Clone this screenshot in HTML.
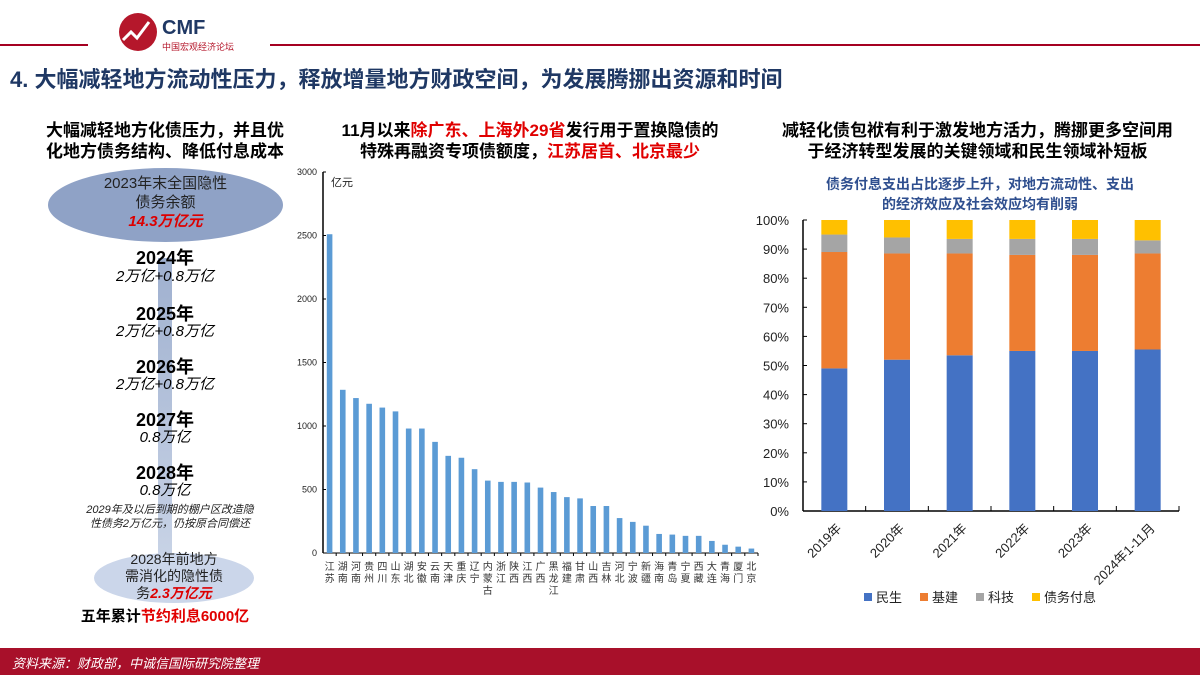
<!DOCTYPE html>
<html><head><meta charset="utf-8"><style>
body{margin:0;width:1200px;height:675px;overflow:hidden;background:#fff;font-family:"Liberation Sans","Noto Sans CJK SC",sans-serif;position:relative}
.a{position:absolute}
.h{font-weight:bold;font-size:17px;color:#000;text-align:center;line-height:21px}
.yr{font-weight:bold;font-size:18px;text-align:center;width:330px;left:0}
.it{font-style:italic;font-size:15px;text-align:center;width:330px;left:0}
.r{color:#e00000}
</style></head><body>
<div class="a" style="left:0;top:44px;width:88px;height:2px;background:#a50021"></div>
<div class="a" style="left:270px;top:44px;width:930px;height:2px;background:#a50021"></div>
<svg class="a" style="left:118px;top:12px" width="160" height="40">
<circle cx="20" cy="20" r="19" fill="#b5172b"/><polyline points="5,28 13,20 19,26 31,10" stroke="#fff" stroke-width="3" fill="none"/>
<text x="44" y="22" font-size="20" font-weight="bold" fill="#1f3864" font-family="Liberation Sans">CMF</text>
<text x="44" y="38" font-size="9" fill="#b5172b" font-family="Noto Sans CJK SC">中国宏观经济论坛</text></svg>
<div class="a" style="left:10px;top:62px;font-size:22px;font-weight:bold;color:#1f3864">4. 大幅减轻地方流动性压力，释放增量地方财政空间，为发展腾挪出资源和时间</div>

<div class="a h" style="left:0;top:120px;width:330px">大幅减轻地方化债压力，并且优<br>化地方债务结构、降低付息成本</div>
<div class="a" style="left:48px;top:168px;width:235px;height:74px;border-radius:50%;background:#8fa2c6"></div>
<div class="a" style="left:48px;top:174px;width:235px;text-align:center;font-size:15px;line-height:19px;color:#222">2023年末全国隐性<br>债务余额<br><b><i class="r" style="color:#d00">14.3万亿元</i></b></div>
<div class="a" style="left:158px;top:258px;width:14px;height:300px;background:linear-gradient(#9fb0cf,#c8d3e6)"></div>
<div class="a yr" style="top:244px">2024年</div>
<div class="a it" style="top:265px">2万亿+0.8万亿</div>
<div class="a yr" style="top:300px">2025年</div>
<div class="a it" style="top:320px">2万亿+0.8万亿</div>
<div class="a yr" style="top:353px">2026年</div>
<div class="a it" style="top:373px">2万亿+0.8万亿</div>
<div class="a yr" style="top:406px">2027年</div>
<div class="a it" style="top:426px">0.8万亿</div>
<div class="a yr" style="top:459px">2028年</div>
<div class="a it" style="top:479px">0.8万亿</div>
<div class="a" style="left:85px;top:503px;width:170px;text-align:center;font-size:11px;font-style:italic;line-height:14px;color:#222">2029年及以后到期的棚户区改造隐性债务2万亿元，仍按原合同偿还</div>
<div class="a" style="left:94px;top:553px;width:160px;height:50px;border-radius:50%;background:#cbd6ea"></div>
<div class="a" style="left:94px;top:551px;width:160px;text-align:center;font-size:14px;line-height:17px;color:#222">2028年前地方<br>需消化的隐性债<br>务<b><i style="color:#d00">2.3万亿元</i></b></div>
<div class="a" style="left:0;top:605px;width:330px;text-align:center;font-size:15px;font-weight:bold">五年累计<span class="r">节约利息6000亿</span></div>

<div class="a h" style="left:300px;top:120px;width:460px">11月以来<span class="r">除广东、上海外29省</span>发行用于置换隐债的<br>特殊再融资专项债额度，<span class="r">江苏居首、北京最少</span></div>
<svg class="a" id="mid" style="left:290px;top:160px" width="475" height="450"></svg>

<div class="a h" style="left:755px;top:120px;width:445px">减轻化债包袱有利于激发地方活力，腾挪更多空间用<br>于经济转型发展的关键领域和民生领域补短板</div>
<div class="a" style="left:760px;top:174px;width:440px;text-align:center;font-size:14px;font-weight:bold;color:#2f4f8f;line-height:20px">债务付息支出占比逐步上升，对地方流动性、支出<br>的经济效应及社会效应均有削弱</div>
<svg class="a" id="right" style="left:750px;top:200px" width="450" height="420"></svg>

<div class="a" style="left:0;top:648px;width:1200px;height:27px;background:#a8102a"></div>
<div class="a" style="left:12px;top:653px;font-size:13px;font-style:italic;color:#fff">资料来源：财政部，中诚信国际研究院整理</div>
<script>
const NS="http://www.w3.org/2000/svg";
function mk(p,t,a){const e=document.createElementNS(NS,t);for(const k in a)e.setAttribute(k,a[k]);p.appendChild(e);return e;}
// middle chart data
const provinces=["江苏","湖南","河南","贵州","四川","山东","湖北","安徽","云南","天津","重庆","辽宁","内蒙古","浙江","陕西","江西","广西","黑龙江","福建","甘肃","山西","吉林","河北","宁波","新疆","海南","青岛","宁夏","西藏","大连","青海","厦门","北京"];
const quota=[2510,1285,1220,1175,1145,1115,980,980,875,765,750,660,570,560,560,555,515,480,440,430,370,370,275,245,215,150,145,135,135,95,65,50,35];
const midTicks=[0,500,1000,1500,2000,2500,3000];
// right chart data
const years=["2019年","2020年","2021年","2022年","2023年","2024年1-11月"];
const minsheng=[49,52,53.5,55,55,55.5];
const jijian=[40,36.5,35,33,33,33];
const keji=[6,5.5,5,5.5,5.5,4.5];
const fuxi=[5,6,6.5,6.5,6.5,7];
const pctTicks=[0,10,20,30,40,50,60,70,80,90,100];
(function(){
 const s=document.getElementById('mid');
 const x0=33,x1=468,y0=393,y1=12,max=3000;
 const Y=v=>y0-(v/max)*(y0-y1);
 const bw=(x1-x0)/quota.length;
 mk(s,'line',{x1:x0,y1:y1,x2:x0,y2:y0,stroke:'#000','stroke-width':1.5});
 mk(s,'line',{x1:x0,y1:y0,x2:x1,y2:y0,stroke:'#000','stroke-width':1});
 midTicks.forEach(t=>{const tx=mk(s,'text',{x:x0-6,y:Y(t)+3,'font-size':9,'text-anchor':'end',fill:'#222'});tx.textContent=t;
  
  mk(s,'line',{x1:x0,y1:Y(t),x2:x0+3,y2:Y(t),stroke:'#000'});});
 const u=mk(s,'text',{x:x0+8,y:y1+14,'font-size':11,fill:'#222'});u.textContent='亿元';
 
 quota.forEach((v,i)=>{const cx=x0+bw*(i+0.5);
  const r=mk(s,'rect',{x:cx-2.8,y:Y(v),width:5.6,height:y0-Y(v),fill:'#5b9bd5'});
  
  mk(s,'line',{x1:x0+bw*(i+1),y1:y0,x2:x0+bw*(i+1),y2:y0+3,stroke:'#000'});
  [...provinces[i]].forEach((c,j)=>{const t=mk(s,'text',{x:cx,y:y0+17+j*12,'font-size':10,'text-anchor':'middle',fill:'#333'});t.textContent=c;
   });
 });
})();
(function(){
 const s=document.getElementById('right');
 const x0=53,x1=429,y0=311,y1=20;
 const Y=v=>y0-(v/100)*(y0-y1);
 const bw=(x1-x0)/years.length;
 mk(s,'line',{x1:x0,y1:y1,x2:x0,y2:y0,stroke:'#000','stroke-width':1.5});
 mk(s,'line',{x1:x0,y1:y0,x2:x1,y2:y0,stroke:'#000','stroke-width':1.5});
 pctTicks.forEach(t=>{const tx=mk(s,'text',{x:x0-14,y:Y(t)+5,'font-size':13,'text-anchor':'end',fill:'#222'});tx.textContent=t+'%';
  
  mk(s,'line',{x1:x0,y1:Y(t),x2:x0+4,y2:Y(t),stroke:'#000'});});
 const series=[[minsheng,'#4472c4','民生'],[jijian,'#ed7d31','基建'],[keji,'#a5a5a5','科技'],[fuxi,'#ffc000','债务付息']];
 years.forEach((yl,i)=>{const cx=x0+bw*(i+0.5);let acc=0;
  series.forEach(([arr,col,nm])=>{const v=arr[i];
   const r=mk(s,'rect',{x:cx-13,y:Y(acc+v),width:26,height:Y(acc)-Y(acc+v),fill:col});
   acc+=v;});
  mk(s,'line',{x1:x0+bw*(i+1),y1:y0,x2:x0+bw*(i+1),y2:y0-5,stroke:'#000'});
  const t=mk(s,'text',{x:cx+8,y:y0+18,'font-size':13,'text-anchor':'end',fill:'#222',transform:`rotate(-45 ${cx+8} ${y0+18})`});t.textContent=yl;
  
 });
 let lx=114;
 series.forEach(([a,col,nm])=>{const g=mk(s,'g',{});
  
  mk(g,'rect',{x:lx,y:393,width:8,height:8,fill:col});
  const t=mk(g,'text',{x:lx+12,y:402,'font-size':13,fill:'#222'});t.textContent=nm;
  lx+=12+nm.length*13+18;});
})();
</script>
</body></html>
